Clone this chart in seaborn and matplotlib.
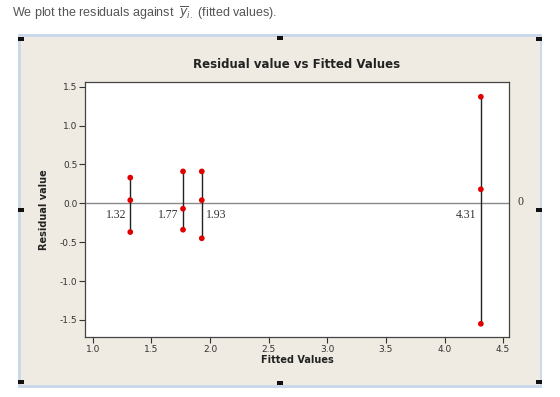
import matplotlib.pyplot as plt
import matplotlib.patches as mpatches
import numpy as np
import pandas as pd
import seaborn as sns

sns.set_theme(style="white")
plt.rcParams['font.family'] = ['DejaVu Sans']

# group means (fitted values) and residuals
fitted_groups = [1.32, 1.77, 1.93, 4.31]
residuals = [
    [0.33, 0.04, -0.37],
    [0.41, -0.07, -0.34],
    [0.41, 0.04, -0.45],
    [1.37, 0.18, -1.55],
]
label_side = ['left', 'left', 'right', 'left']
x_ticks = [1.0, 1.5, 2.0, 2.5, 3.0, 3.5, 4.0, 4.5]
y_ticks = [-1.5, -1.0, -0.5, 0.0, 0.5, 1.0, 1.5]

df = pd.DataFrame({
    'fitted': np.repeat(fitted_groups, [len(r) for r in residuals]),
    'residual': np.concatenate(residuals),
})

fig = plt.figure(figsize=(5.6, 3.97), dpi=100)
fig.patch.set_facecolor('white')

# panel behind the plot (beige with blue frame)
W, H = 560, 397
def fx(px): return px / W
def fy(py): return 1 - py / H
fig.patches.append(mpatches.Rectangle((fx(18), fy(388)), fx(542) - fx(18), fy(34) - fy(388),
                                      transform=fig.transFigure, facecolor='#c9d8ea',
                                      edgecolor='none', zorder=-3))
fig.patches.append(mpatches.Rectangle((fx(21), fy(385)), fx(540) - fx(21), fy(37) - fy(385),
                                      transform=fig.transFigure, facecolor='#efebe2',
                                      edgecolor='none', zorder=-2))
# selection handles
for hx, hy in [(21, 39), (280, 38), (539, 39), (21, 210), (539, 210),
               (21, 382), (280, 383), (539, 382)]:
    fig.patches.append(mpatches.Rectangle((fx(hx - 3), fy(hy + 2)), fx(6), 4 / H,
                                          transform=fig.transFigure, facecolor='#111111',
                                          edgecolor='none', zorder=-1))

fig.text(fx(12), fy(13), r"We plot the residuals against  $\overline{y}_{i.}$ (fitted values).",
         fontsize=9, color='#555555', va='center', ha='left', family='Liberation Sans')

ax = fig.add_axes([fx(85), fy(337), fx(509) - fx(85), fy(82) - fy(337)])
ax.set_zorder(2)
ax.set_facecolor('white')

ax.axhline(0, color='#8a8a8a', lw=1, zorder=1)

for g, r in zip(fitted_groups, residuals):
    ax.vlines(g, min(r), max(r), color='#222222', lw=1, zorder=2)

sns.scatterplot(data=df, x='fitted', y='residual', color='#e00000', s=17,
                edgecolor='none', ax=ax, zorder=3)

for g, side in zip(fitted_groups, label_side):
    dx = -3 if side == 'left' else 3
    ax.annotate(f"{g:.2f}", xy=(g, 0), xytext=(dx, -4), textcoords='offset points',
                ha='right' if side == 'left' else 'left', va='top',
                fontsize=8.5, color='#333333', family='Liberation Serif')

ax.annotate("0", xy=(1, 0), xycoords=('axes fraction', 'data'), xytext=(6, 1),
            textcoords='offset points', ha='left', va='center', fontsize=8.5,
            color='#333333', family='Liberation Serif')

ax.set_xlim(0.934, 4.55)
ax.set_ylim(-1.72, 1.56)
ax.set_xticks(x_ticks)
ax.set_yticks(y_ticks)
ax.set_xticklabels([f"{t:.1f}" for t in x_ticks])
ax.set_yticklabels([f"{t:.1f}" for t in y_ticks])
ax.tick_params(axis='both', direction='out', length=4, width=0.8, color='#333333',
               labelsize=6.5, labelcolor='#333333', pad=1.5, bottom=True, left=True)
for sp in ax.spines.values():
    sp.set_color('#444444')
    sp.set_linewidth(0.9)

ax.set_title("Residual value vs Fitted Values", fontsize=8.5, fontweight='bold',
             color='#222222', pad=10)
ax.set_xlabel("Fitted Values", fontsize=7, fontweight='bold', color='#222222', labelpad=1)
ax.set_ylabel("Residual value", fontsize=7, fontweight='bold', color='#222222', labelpad=8)

plt.savefig("out.png", dpi=100)
plt.close()
